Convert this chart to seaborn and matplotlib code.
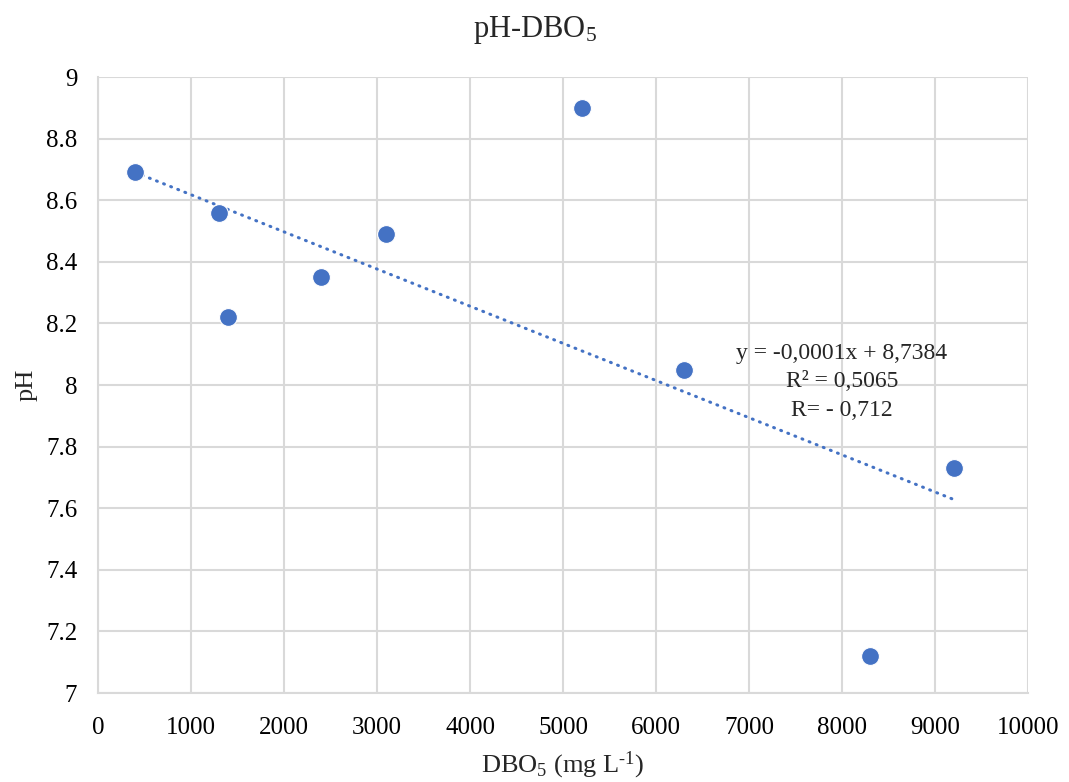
import numpy as np
import pandas as pd
import matplotlib
matplotlib.use("Agg")
import matplotlib.pyplot as plt
import seaborn as sns

# Data
dbo5 = [400, 1300, 1400, 2400, 3100, 5200, 6300, 8300, 9200]
ph = [8.69, 8.56, 8.22, 8.35, 8.49, 8.90, 8.05, 7.12, 7.73]
x_ticks = [0, 1000, 2000, 3000, 4000, 5000, 6000, 7000, 8000, 9000, 10000]
y_ticks = [7, 7.2, 7.4, 7.6, 7.8, 8, 8.2, 8.4, 8.6, 8.8, 9]
y_tick_labels = ["7", "7.2", "7.4", "7.6", "7.8", "8", "8.2", "8.4", "8.6", "8.8", "9"]
eq_text = "y = -0,0001x + 8,7384\nR² = 0,5065\nR= - 0,712"

sns.set_theme(style="white")
plt.rcParams["font.family"] = ["Liberation Serif", "DejaVu Serif"]
plt.rcParams["mathtext.fontset"] = "custom"
plt.rcParams["mathtext.rm"] = "Liberation Serif"
plt.rcParams["mathtext.it"] = "Liberation Serif:italic"

df = pd.DataFrame({"DBO5": dbo5, "pH": ph})
color = "#4472C4"

fig = plt.figure(figsize=(10.69, 7.82), dpi=100)
ax = fig.add_axes([98 / 1069, 1 - 693 / 782, (1028 - 98) / 1069, (693 - 77) / 782])

# Trendline (least squares)
slope, intercept = np.polyfit(df["DBO5"], df["pH"], 1)
tx = np.array([min(dbo5), max(dbo5)])
trend = pd.DataFrame({"x": tx, "y": slope * tx + intercept})
sns.lineplot(data=trend, x="x", y="y", ax=ax, color=color, linewidth=2.2,
             linestyle=(0, (0.3, 2.2)), dash_capstyle="round", zorder=2)

sns.scatterplot(data=df, x="DBO5", y="pH", ax=ax, color=color, s=165,
                edgecolor="white", linewidth=0.8, zorder=3)

ax.set_xlim(0, 10000)
ax.set_ylim(7, 9)
ax.set_xticks(x_ticks)
ax.set_xticklabels([str(v) for v in x_ticks])
ax.set_yticks(y_ticks)
ax.set_yticklabels(y_tick_labels)
ax.tick_params(axis="both", labelsize=18, length=0, colors="black")
ax.tick_params(axis="x", pad=17)
ax.tick_params(axis="y", pad=15)

ax.grid(True, color="#D9D9D9", linewidth=1.5)
ax.set_axisbelow(True)
for side, sp in ax.spines.items():
    sp.set_visible(side in ("left", "bottom"))
    sp.set_color("#D9D9D9")
    sp.set_linewidth(1.5)

ax.set_xlabel(r"DBO$_5$ (mg L$^{\text{-1}}$)", fontsize=19, labelpad=8)
ax.set_ylabel("pH", fontsize=19, labelpad=6)
fig.text(0.5, 1 - 30 / 782, r"pH-DBO$_5$", fontsize=22, ha="center", va="center")

ax.text(8000, 8.01, eq_text, fontsize=17, ha="center", va="center",
        multialignment="center", linespacing=1.45)

fig.savefig("out.png", dpi=100)
